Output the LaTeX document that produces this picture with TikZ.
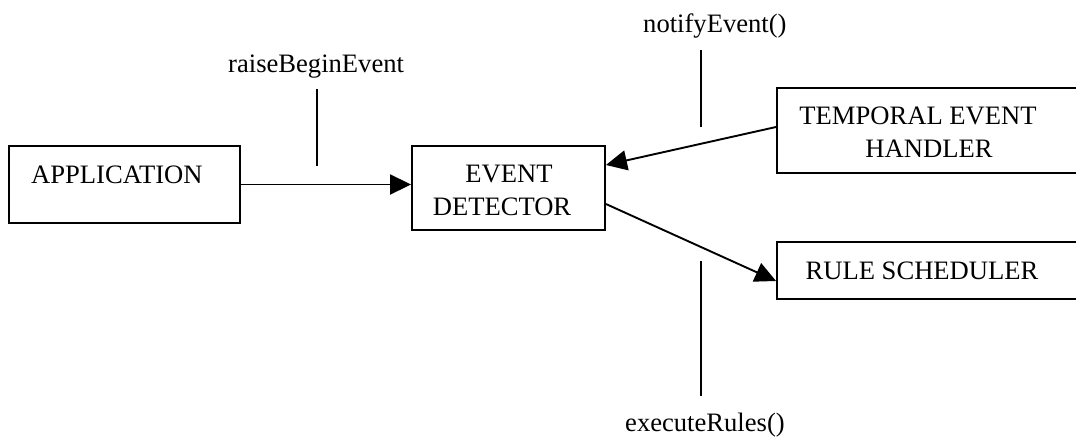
\documentclass[tikz,border=0pt]{standalone}
\usepackage{fontspec}
\setmainfont{Liberation Serif}
\usetikzlibrary{arrows.meta}
\begin{document}
\begin{tikzpicture}[x=1pt,y=-1pt,
  every node/.style={font=\fontsize{26.6}{33}\selectfont},
  box/.style={draw, line width=1.9pt, inner sep=0pt},
  txt/.style={inner sep=0pt},
  conn/.style={line width=1.9pt},
  arr/.style={conn, -{Triangle[length=21pt,width=20pt]}},
  tick/.style={line width=1.9pt}]
\useasboundingbox (0,0) rectangle (1076,442);
\begin{scope}
\clip (0,0) rectangle (1076,442);
\node[box, minimum width=231pt, minimum height=77pt] (app) at (124.5,184.5) {};
\node[box, minimum width=193pt, minimum height=84pt] (ed) at (508.5,188) {};
\node[box, minimum width=320pt, minimum height=85pt] (teh) at (937,130.5) {};
\node[box, minimum width=320pt, minimum height=57pt] (rs) at (937,270.5) {};
\end{scope}
\node[txt, anchor=base west] (appt) at (31,183) {APPLICATION};
\node[txt, align=center] (edt) at (509,190.5) {EVENT\\\hspace*{-14pt}DETECTOR};
\node[txt, align=center] (teht) at (918,132) {TEMPORAL EVENT\\\hspace*{22pt}HANDLER};
\node[txt] (rst) at (922,270.5) {RULE SCHEDULER};
\node[txt, anchor=base west] (l1) at (228,72) {raiseBeginEvent};
\node[txt, anchor=base west] (l2) at (643,32) {notifyEvent()};
\node[txt, anchor=base west] (l3) at (625,431) {executeRules()};
\coordinate (t1a) at (317,89); \coordinate (t1b) at (317,166);
\coordinate (t2a) at (701,50); \coordinate (t2b) at (701,127);
\coordinate (t3a) at (701,261); \coordinate (t3b) at (701,396);
\draw[tick] (t1a) -- (t1b);
\draw[tick] (t2a) -- (t2b);
\draw[tick] (t3a) -- (t3b);
\draw[arr] (app.east) -- (app.east -| ed.west);
\draw[arr] ([yshift=3.5pt]teh.west) -- ([yshift=23pt]ed.east);
\draw[arr] ([yshift=-16pt]ed.east) -- ([yshift=-10.5pt]rs.west);
\end{tikzpicture}
\end{document}
